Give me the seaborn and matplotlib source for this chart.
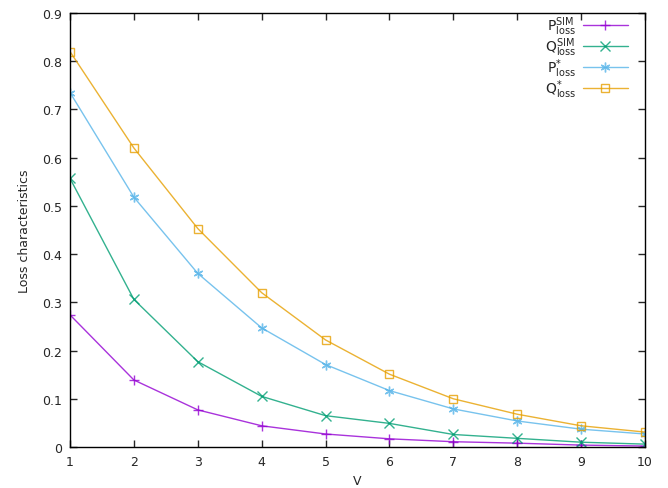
import matplotlib
matplotlib.use("Agg")
import matplotlib.pyplot as plt
import seaborn as sns
import pandas as pd

V = [1, 2, 3, 4, 5, 6, 7, 8, 9, 10]
p_sim = [0.274, 0.139, 0.077, 0.044, 0.027, 0.017, 0.011, 0.008, 0.004, 0.002]
q_sim = [0.557, 0.306, 0.177, 0.105, 0.065, 0.049, 0.026, 0.018, 0.010, 0.006]
p_star = [0.735, 0.518, 0.360, 0.247, 0.171, 0.117, 0.079, 0.054, 0.037, 0.027]
q_star = [0.820, 0.620, 0.453, 0.320, 0.222, 0.151, 0.100, 0.068, 0.044, 0.031]

labels = [r'$\mathrm{P^{SIM}_{loss}}$', r'$\mathrm{Q^{SIM}_{loss}}$',
          r'$\mathrm{P^{*}_{loss}}$', r'$\mathrm{Q^{*}_{loss}}$']
series = [p_sim, q_sim, p_star, q_star]
colors = ['#9400d3', '#009e73', '#56b4e9', '#e69f00']
markers = ['+', 'x', (6, 2, 0), 's']

sns.set_style("ticks")
plt.rcParams['font.family'] = ['DejaVu Sans']

fig = plt.figure(figsize=(6.68, 4.89), dpi=100)
ax = fig.add_axes([0.1048, 0.0838, 0.8608, 0.8876])

for lab, vals, c, m in zip(labels, series, colors, markers):
    df = pd.DataFrame({'V': V, 'val': vals})
    kw = dict(marker=m, markersize=7, markeredgewidth=1.0, color=c, linewidth=1.0,
              markeredgecolor=c, markerfacecolor=c, alpha=0.8)
    if m == 's':
        kw.update(markerfacecolor='none', markersize=6)
    sns.lineplot(data=df, x='V', y='val', ax=ax, label=lab, **kw)

ax.set_xlim(1, 10)
ax.set_ylim(0, 0.9)
ax.set_xticks(V)
ax.set_yticks([0, 0.1, 0.2, 0.3, 0.4, 0.5, 0.6, 0.7, 0.8, 0.9])
ax.set_yticklabels(['0', '0.1', '0.2', '0.3', '0.4', '0.5', '0.6', '0.7', '0.8', '0.9'])
ax.tick_params(direction='in', top=True, right=True, labelsize=9, length=5, width=1, pad=6)
for s in ax.spines.values():
    s.set_linewidth(1.0)
    s.set_color('black')
ax.set_xlabel('V', fontsize=9, labelpad=4)
ax.set_ylabel('Loss characteristics', fontsize=9, labelpad=8)

leg = ax.legend(loc='upper right', bbox_to_anchor=(0.972, 1.0), frameon=False,
                markerfirst=False, fontsize=10, handlelength=3.2, labelspacing=-0.12,
                borderaxespad=0.0, borderpad=0.1, handletextpad=0.5)

fig.savefig('out.png', dpi=100)
